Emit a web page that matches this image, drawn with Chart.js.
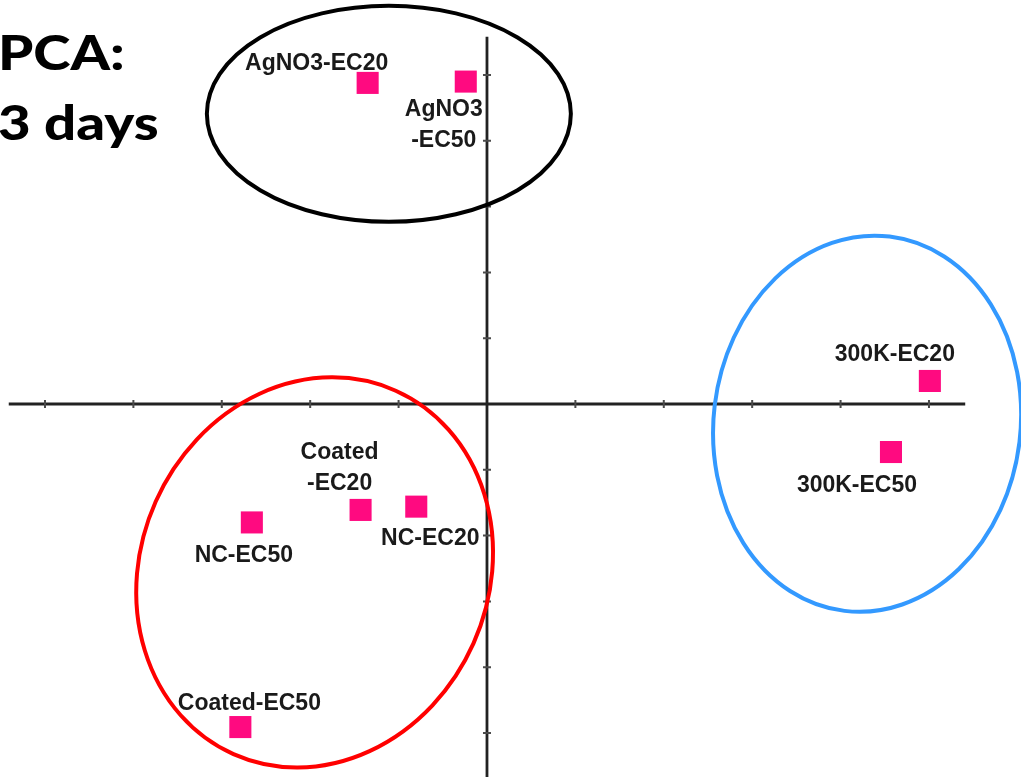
<!DOCTYPE html>
<html>
<head>
<meta charset="utf-8">
<title>PCA: 3 days</title>
<script src="https://cdn.jsdelivr.net/npm/chart.js@4.4.1/dist/chart.umd.min.js"></script>
<style>
  html, body { margin: 0; padding: 0; background: #ffffff; }
  #wrap { width: 1021px; height: 777px; position: relative; }
</style>
</head>
<body>
<div id="wrap"><canvas id="pca"></canvas></div>
<script>
// Sample scores on the first two principal components
const sampleNames = ['AgNO3-EC20', 'AgNO3-EC50', '300K-EC20', '300K-EC50', 'Coated-EC20', 'NC-EC20', 'NC-EC50', 'Coated-EC50'];
const pc1Scores = [-1.35, -0.24, 5.01, 4.57, -1.43, -0.80, -2.66, -2.79];
const pc2Scores = [4.88, 4.90, 0.35, -0.73, -1.61, -1.56, -1.80, -4.91];

// Label text as printed next to each marker (some wrap onto two lines)
const labelLines = [['AgNO3-EC20'], ['AgNO3', '-EC50'], ['300K-EC20'], ['300K-EC50'], ['Coated', '-EC20'], ['NC-EC20'], ['NC-EC50'], ['Coated-EC50']];

// Tick marks along both axes
const xTicks = [-5, -4, -3, -2, -1, 1, 2, 3, 4, 5];
const yTicks = [-5, -4, -3, -2, -1, 1, 2, 3, 4, 5];

const titleLines = ['PCA:', '3 days'];

// ---- layout / styling ----
const X_MIN = -5.509, X_MAX = 6.041;
const Y_MIN = -5.669, Y_MAX = 6.140;
const X_AXIS_SPAN = [-5.41, 5.41];
const Y_AXIS_SPAN = [Y_MIN - 0.2, 5.58];

// label anchor offsets in pixels: [dx, dy of first baseline]
const labelOffsets = [[-51, -13], [-22, 34], [-35, -20], [-34, 40], [-21, -51], [14, 38], [-8, 40], [9, -17]];
const LABEL_LINE_H = 31;

// group outlines: centre in score units, radii in pixels
const groupOutlines = [
  { cx: -1.11, cy: 4.41, rx: 182, ry: 108, rot: 0.0,   color: '#000000' },
  { cx: 4.30,  cy: -0.30, rx: 153.5, ry: 188.5, rot: 0.12, color: '#3399ff' },
  { cx: -1.95, cy: -2.56, rx: 174, ry: 199, rot: 0.42, color: '#ff0000' }
];

const axesPlugin = {
  id: 'centerAxes',
  beforeDatasetsDraw(chart) {
    const { ctx, scales: { x, y } } = chart;
    const x0 = x.getPixelForValue(0), y0 = y.getPixelForValue(0);
    ctx.save();
    ctx.strokeStyle = '#222222';
    ctx.lineWidth = 2.8;
    ctx.beginPath();
    ctx.moveTo(x.getPixelForValue(X_AXIS_SPAN[0]), y0);
    ctx.lineTo(x.getPixelForValue(X_AXIS_SPAN[1]), y0);
    ctx.moveTo(x0, y.getPixelForValue(Y_AXIS_SPAN[1]));
    ctx.lineTo(x0, y.getPixelForValue(Y_AXIS_SPAN[0]));
    ctx.stroke();
    ctx.strokeStyle = '#4a4a4a';
    ctx.lineWidth = 2;
    ctx.beginPath();
    xTicks.forEach(t => {
      const px = x.getPixelForValue(t);
      ctx.moveTo(px, y0 - 4); ctx.lineTo(px, y0 + 4);
    });
    yTicks.forEach(t => {
      const py = y.getPixelForValue(t);
      ctx.moveTo(x0 - 4, py); ctx.lineTo(x0 + 4, py);
    });
    ctx.stroke();
    ctx.restore();
  },
  afterDatasetsDraw(chart) {
    const { ctx, scales: { x, y } } = chart;
    ctx.save();
    // group outlines
    ctx.lineWidth = 4;
    groupOutlines.forEach(g => {
      ctx.strokeStyle = g.color;
      ctx.beginPath();
      ctx.ellipse(x.getPixelForValue(g.cx), y.getPixelForValue(g.cy), g.rx, g.ry, g.rot, 0, Math.PI * 2);
      ctx.stroke();
    });
    // sample labels
    ctx.fillStyle = '#1a1a1a';
    ctx.font = 'bold 23px "Liberation Sans", Arial, sans-serif';
    ctx.textAlign = 'center';
    ctx.textBaseline = 'alphabetic';
    const meta = chart.getDatasetMeta(0);
    meta.data.forEach((pt, i) => {
      const [dx, dy] = labelOffsets[i];
      labelLines[i].forEach((line, k) => {
        ctx.fillText(line, pt.x + dx, pt.y + dy + k * LABEL_LINE_H);
      });
    });
    // panel title (slightly widened face)
    ctx.fillStyle = '#000000';
    ctx.font = '900 47px Lato, "Open Sans", sans-serif';
    ctx.textAlign = 'left';
    ctx.translate(-2, 0);
    ctx.scale(1.2, 1);
    ctx.fillText(titleLines[0], 0, 70);
    ctx.fillText(titleLines[1], 0, 140);
    ctx.restore();
  }
};

new Chart(document.getElementById('pca'), {
  type: 'scatter',
  data: {
    labels: sampleNames,
    datasets: [{
      label: 'Samples',
      data: pc1Scores.map((v, i) => ({ x: v, y: pc2Scores[i] })),
      pointStyle: 'rect',
      pointRadius: 15.6,
      pointHoverRadius: 15.6,
      backgroundColor: '#ff0a80',
      borderWidth: 0,
      clip: false
    }]
  },
  options: {
    responsive: true,
    maintainAspectRatio: false,
    animation: false,
    events: [],
    layout: { padding: 0, autoPadding: false },
    plugins: { legend: { display: false }, tooltip: { enabled: false }, title: { display: false } },
    scales: {
      x: { type: 'linear', min: X_MIN, max: X_MAX, display: false },
      y: { type: 'linear', min: Y_MIN, max: Y_MAX, display: false }
    }
  },
  plugins: [axesPlugin]
});
</script>
</body>
</html>
